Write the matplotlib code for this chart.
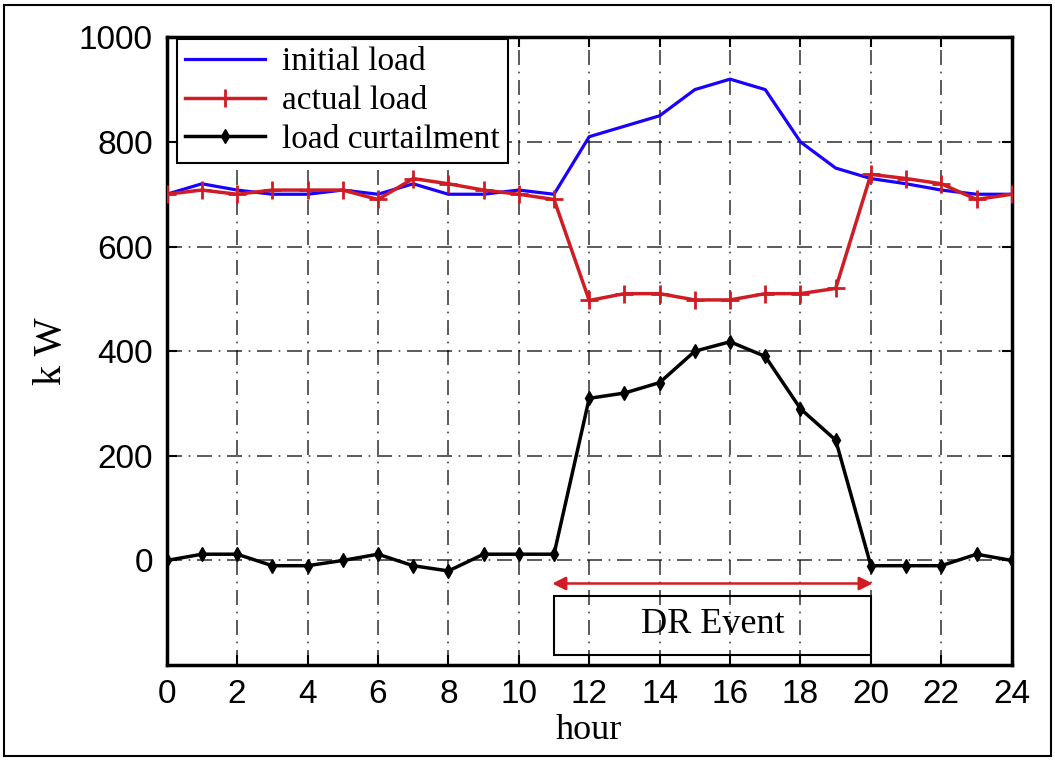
import matplotlib.pyplot as plt
from matplotlib.patches import Rectangle

# hourly data
hours = list(range(25))
initial_load = [700, 720, 708, 700, 700, 708, 700, 720, 700, 700, 708, 700,
                810, 830, 850, 900, 920, 900, 800, 750, 730, 720, 708, 700, 700]
actual_load = [700, 708, 700, 708, 708, 708, 690, 730, 720, 708, 700, 690,
               497, 510, 510, 498, 498, 510, 510, 520, 738, 730, 720, 690, 700]
curtailment = [0, 12, 12, -10, -10, 0, 12, -10, -20, 12, 12, 12,
               310, 320, 340, 400, 418, 390, 290, 230, -10, -10, -10, 12, 0]

x_ticks = list(range(0, 25, 2))
y_ticks = [0, 200, 400, 600, 800, 1000]
dr_start, dr_end = 11, 20

serif = ['Liberation Serif', 'DejaVu Serif']
sans = ['Liberation Sans', 'DejaVu Sans']

fig = plt.figure(figsize=(10.55, 7.61), dpi=100)
ax = fig.add_axes([0.158, 0.126, 0.801, 0.825])

# outer frame around the whole picture
fig.patches.append(Rectangle((0.004, 0.006), 0.992, 0.988, transform=fig.transFigure,
                             fill=False, edgecolor='black', linewidth=1.5))

ax.plot(hours, initial_load, color='#1a00ff', lw=2.3, label='initial load', zorder=3)
ax.plot(hours, actual_load, color='#d01c24', lw=2.5, marker='+', ms=13, mew=2,
        label='actual load', zorder=4)
ax.plot(hours, curtailment, color='black', lw=2.5, marker='d', ms=7,
        label='load curtailment', zorder=4)

ax.set_xlim(0, 24)
ax.set_ylim(-200, 1000)
ax.set_xticks(x_ticks)
ax.set_yticks(y_ticks)
ax.tick_params(direction='in', length=7, width=1.5, top=True, right=True,
               labelsize=24, pad=10)
for lab in ax.get_xticklabels() + ax.get_yticklabels():
    lab.set_family(sans)
for s in ax.spines.values():
    s.set_linewidth(2.5)

ax.grid(True, color='black', lw=1.2, alpha=0.75)
for gl in ax.get_xgridlines() + ax.get_ygridlines():
    gl.set_linestyle((0, (9, 4, 1, 4)))

ax.set_xlabel('hour', fontsize=26, family=serif, labelpad=3)
ax.set_ylabel('k W', fontsize=29, family=serif, labelpad=6)

# DR event annotation
ax.annotate('', xy=(dr_start - 0.05, -44), xytext=(dr_end + 0.05, -44),
            arrowprops=dict(arrowstyle='<|-|>', color='#d01c24', lw=1.8,
                            mutation_scale=20, shrinkA=0, shrinkB=0))
ax.add_patch(Rectangle((dr_start, -180), dr_end - dr_start, 112, fill=False,
                       edgecolor='black', linewidth=1.5, zorder=5))
ax.text((dr_start + dr_end) / 2, -122, 'DR Event', ha='center', va='center',
        fontsize=26, family=serif, zorder=6)

leg = ax.legend(loc='upper left', bbox_to_anchor=(0.012, 0.998),
                prop={'family': serif, 'size': 24},
                fancybox=False, edgecolor='black', framealpha=1,
                handlelength=2.4, borderaxespad=0, labelspacing=0.25,
                borderpad=0.25, handletextpad=0.5)
leg.get_frame().set_linewidth(1.5)

fig.savefig('out.png', dpi=100)
